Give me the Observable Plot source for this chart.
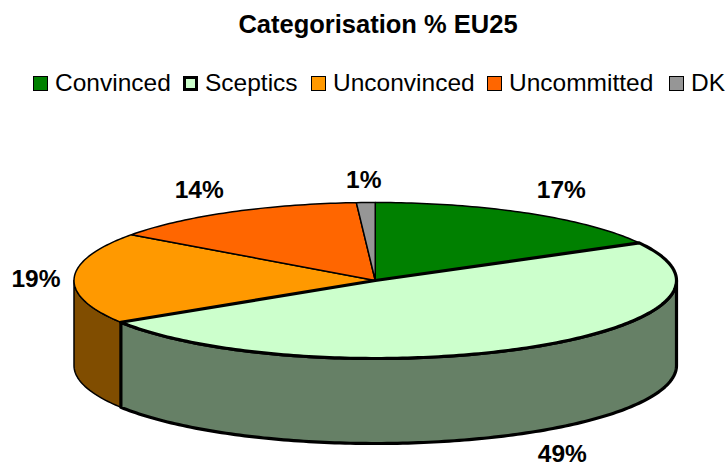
<!DOCTYPE html>
<html>
<head>
<meta charset="utf-8">
<script src="https://cdn.jsdelivr.net/npm/d3@7"></script>
<script src="https://cdn.jsdelivr.net/npm/@observablehq/plot@0.6"></script>
<style>
  html, body { margin: 0; padding: 0; background: #fff; overflow: hidden; }
  body { width: 727px; height: 466px; font-family: "Liberation Sans", Arial, sans-serif; color: #000; position: relative; }
  #title { height: 50px; line-height: 48px; font-size: 25.5px; font-weight: bold; text-align: center; padding-left: 29px; box-sizing: border-box; }
  #legend { height: 56px; position: relative; font-size: 24.5px; }
  .item { position: absolute; top: 20px; display: flex; align-items: center; height: 26px; white-space: nowrap; }
  .sw { width: 15px; height: 15px; box-sizing: border-box; margin-right: 7px; }
  #chart svg { display: block; }
</style>
</head>
<body>
<div id="title">Categorisation % EU25</div>
<div id="legend"></div>
<div id="chart"></div>
<script>
const categories = ["Convinced", "Sceptics", "Unconvinced", "Uncommitted", "DK"];
const values = [17, 49, 19, 14, 1];
const topColors = ["#008000", "#ccffcc", "#ff9900", "#ff6600", "#969696"];
const wallColors = ["#004000", "#668066", "#804d00", "#803300", "#4b4b4b"];
const strokeWidths = [1.5, 3.2, 1.5, 1.5, 1.5];
const legendLeft = [33, 183, 311, 487, 669];
const legendBorder = [1.5, 3, 1.5, 1.5, 1.5];
// pixel nudges of the percent labels from their slice's radial anchor
const labelNudge = [[-1, -8], [0, 7], [28, 2], [1, -7], [0, -5]];
const depth = 85 / 78; // wall height in y-units
const labelRadius = 1.22;

const legend = d3.select("#legend");
categories.forEach((c, i) => {
  const it = legend.append("div").attr("class", "item").style("left", legendLeft[i] + "px");
  it.append("div").attr("class", "sw").style("background", topColors[i]).style("border", `${legendBorder[i]}px solid #000`);
  it.append("span").text(c);
});

const total = d3.sum(values);
let acc = 0;
const slices = categories.map((c, i) => {
  const a0 = acc / total * 2 * Math.PI;
  acc += values[i];
  const a1 = acc / total * 2 * Math.PI;
  return {c, i, a0, a1, mid: (a0 + a1) / 2};
});
const rim = (a, dy = 0) => ({x: Math.sin(a), y: Math.cos(a) - dy});
function arc(a0, a1, dy = 0) {
  const n = Math.max(2, Math.ceil((a1 - a0) / (Math.PI / 180)));
  return d3.range(n + 1).map(k => rim(a0 + (a1 - a0) * k / n, dy));
}
const topPoly = s => { const p = [{x: 0, y: 0}, ...arc(s.a0, s.a1)]; p.push(p[0]); return p; };
function wallPoly(s) {
  const a0 = Math.max(s.a0, Math.PI / 2), a1 = Math.min(s.a1, 3 * Math.PI / 2);
  if (a1 <= a0) return null;
  const p = [...arc(a0, a1), ...arc(a0, a1, depth).reverse()];
  p.push(p[0]);
  return p;
}

const marks = [];
[2, 1].forEach(i => {
  const s = slices[i], p = wallPoly(s);
  if (p) marks.push(Plot.line(p, {x: "x", y: "y", fill: wallColors[i], stroke: "#000", strokeWidth: strokeWidths[i], strokeLinejoin: "round", curve: "linear"}));
});
[0, 2, 3, 4, 1].forEach(i => {
  marks.push(Plot.line(topPoly(slices[i]), {x: "x", y: "y", fill: topColors[i], stroke: "#000", strokeWidth: strokeWidths[i], strokeLinejoin: "round", curve: "linear"}));
});
slices.forEach(s => {
  const base = s.i === 1 ? depth : 0;
  marks.push(Plot.text([rim(s.mid, 0)], {
    x: d => d.x * labelRadius,
    y: d => d.y * labelRadius - base,
    text: () => values[s.i] + "%",
    dx: labelNudge[s.i][0], dy: labelNudge[s.i][1],
    fontSize: 24.5, fontWeight: "bold", fontFamily: "Liberation Sans", fill: "#000"
  }));
});

const plot = Plot.plot({
  width: 727, height: 360,
  margin: 0,
  x: {domain: [-1, 1], range: [73.5, 676], axis: null},
  y: {domain: [-1, 1], range: [252, 96], axis: null},
  marks
});
document.getElementById("chart").appendChild(plot);
</script>
</body>
</html>
